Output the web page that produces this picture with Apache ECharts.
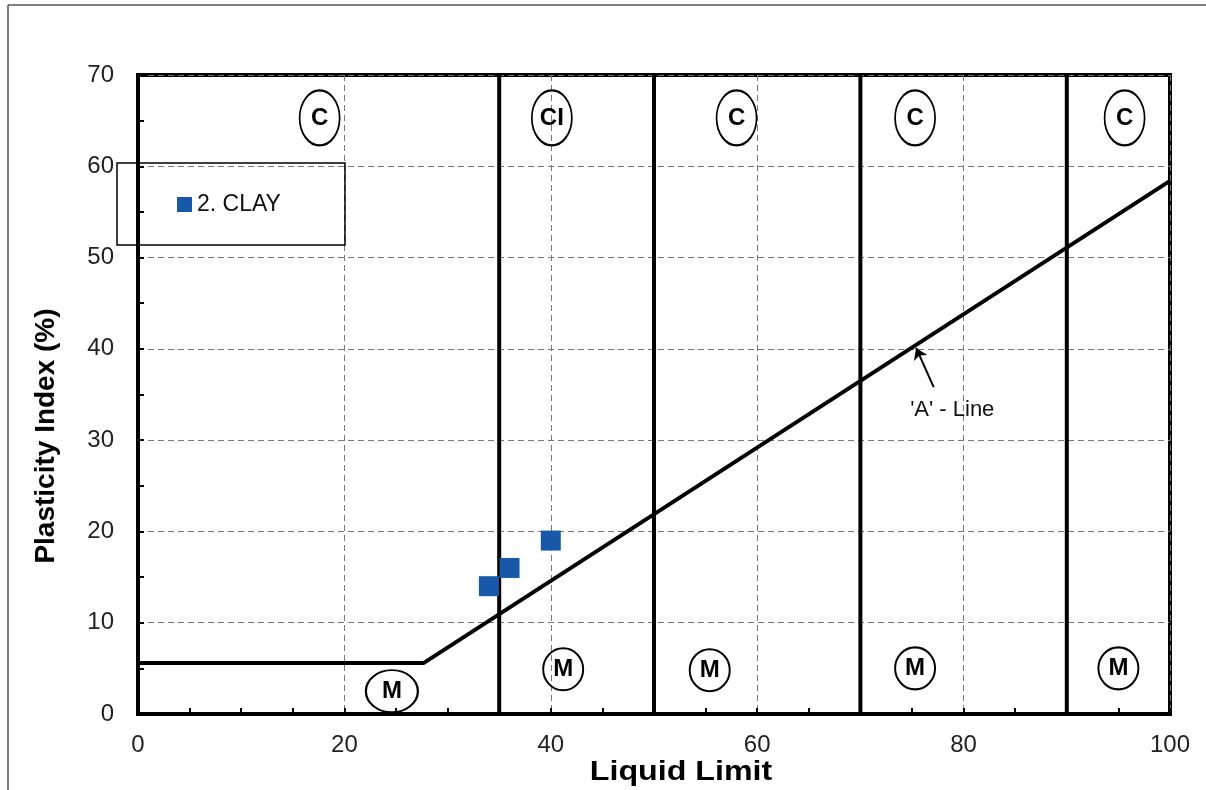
<!DOCTYPE html>
<html>
<head>
<meta charset="utf-8">
<script src="https://cdn.jsdelivr.net/npm/echarts@6/dist/echarts.min.js"></script>
<style>
html,body{margin:0;padding:0;background:#fff;}
#chart{width:1206px;height:790px;}
</style>
</head>
<body>
<div id="chart"></div>
<script>
// ---- data ----
const xTicks = [0, 20, 40, 60, 80, 100];
const yTicks = [0, 10, 20, 30, 40, 50, 60, 70];
const aLineLL = [0, 27.7, 100];
const aLinePI = [5.6, 5.6, 58.4];
const dividerLL = [35, 50, 70, 90];
const sampleName = '2. CLAY';
const sampleLL = [34, 36, 40];
const samplePI = [14, 16, 19];
const zoneText = ['C', 'CI', 'C', 'C', 'C', 'M', 'M', 'M', 'M', 'M'];
const zoneLL = [17.6, 40.1, 58.0, 75.3, 95.6, 24.6, 41.2, 55.4, 75.3, 95.0];
const zonePI = [65.3, 65.3, 65.3, 65.3, 65.3, 2.5, 4.9, 4.8, 5.0, 5.0];
const zoneW = [40, 40, 40, 40, 40, 52, 40, 40, 40, 40];
const zoneH = [55, 55, 55, 55, 55, 42, 42, 42, 42, 42];
const arrowFrom = [77.1, 35.8];
const arrowTo = [75.4, 40.1];
const aLabelPos = [78.9, 33.3];
const aLabelText = "'A' - Line";

const chart = echarts.init(document.getElementById('chart'), null, {renderer: 'canvas'});
const FONT = 'Liberation Sans, Arial, sans-serif';

const series = [];
dividerLL.forEach(function (ll) {
  series.push({
    type: 'line', data: [[ll, 0], [ll, 70]], symbol: 'none', silent: true,
    lineStyle: {color: '#000', width: 4}, z: 3
  });
});
series.push({
  type: 'line', data: aLineLL.map(function (v, i) { return [v, aLinePI[i]]; }),
  symbol: 'none', lineStyle: {color: '#000', width: 4}, z: 3
});
series.push({
  type: 'scatter', symbol: 'circle',
  data: zoneText.map(function (t, i) {
    return {name: t, value: [zoneLL[i], zonePI[i]], symbolSize: [zoneW[i], zoneH[i]]};
  }),
  itemStyle: {color: 'rgba(0,0,0,0)', borderColor: '#000', borderWidth: 2, opacity: 1},
  label: {show: true, position: 'inside', formatter: '{b}', color: '#000',
    fontWeight: 'bold', fontSize: 24, fontFamily: FONT},
  z: 4
});
series.push({
  name: sampleName, type: 'scatter', symbol: 'rect', symbolSize: 20,
  data: sampleLL.map(function (v, i) { return [v, samplePI[i]]; }),
  itemStyle: {color: '#1759a8', opacity: 1}, z: 5
});
series.push({
  type: 'lines', coordinateSystem: 'cartesian2d', polyline: false,
  symbol: ['none', 'arrow'], symbolSize: 11,
  data: [{coords: [arrowFrom, arrowTo]}],
  lineStyle: {color: '#000', width: 2, curveness: 0, opacity: 1}, z: 5
});
series.push({
  type: 'scatter', symbolSize: 0,
  data: [{name: aLabelText, value: aLabelPos}],
  itemStyle: {opacity: 1},
  label: {show: true, position: 'inside', formatter: '{b}', color: '#111',
    fontSize: 22, fontFamily: FONT},
  z: 5
});

const option = {
  animation: false,
  backgroundColor: '#fff',
  grid: {left: 138, right: 36, top: 75, bottom: 76, show: true,
    borderColor: '#000', borderWidth: 4, backgroundColor: 'transparent'},
  xAxis: {
    type: 'value', min: 0, max: 100, interval: 20,
    axisLine: {show: true, lineStyle: {color: '#000', width: 4}},
    axisTick: {show: true, inside: true, length: 6, lineStyle: {color: '#000', width: 2}},
    minorTick: {show: true, splitNumber: 4, length: 6, lineStyle: {color: '#000', width: 2}},
    splitLine: {show: true, lineStyle: {color: '#777', type: [6, 4], width: 1}},
    axisLabel: {color: '#222', fontSize: 24, fontFamily: FONT, margin: 19,
      formatter: function (v) { return xTicks.indexOf(v) >= 0 ? String(v) : ''; }}
  },
  yAxis: {
    type: 'value', min: 0, max: 70, interval: 10,
    axisLine: {show: true, lineStyle: {color: '#000', width: 4}},
    axisTick: {show: true, inside: true, length: 6, lineStyle: {color: '#000', width: 2}},
    minorTick: {show: true, splitNumber: 2, length: 6, lineStyle: {color: '#000', width: 2}},
    splitLine: {show: true, lineStyle: {color: '#777', type: [6, 4], width: 1}},
    axisLabel: {color: '#222', fontSize: 24, fontFamily: FONT, margin: 24,
      formatter: function (v) { return yTicks.indexOf(v) >= 0 ? String(v) : ''; }}
  },
  legend: {
    data: [sampleName], left: 177, top: 193, padding: 0, itemGap: 5,
    itemWidth: 15, itemHeight: 15, icon: 'rect',
    textStyle: {fontSize: 23, color: '#111', fontFamily: FONT, padding: [2, 0, 0, 0]}
  },
  graphic: [
    {type: 'rect', shape: {x: 117, y: 163, width: 228, height: 82},
      style: {fill: 'none', stroke: '#000', lineWidth: 1.5}, z: 10},
    {type: 'line', shape: {x1: 8, y1: 5, x2: 1206, y2: 5},
      style: {stroke: '#555', lineWidth: 1.5}},
    {type: 'line', shape: {x1: 8, y1: 5, x2: 8, y2: 790},
      style: {stroke: '#555', lineWidth: 1.5}},
    {type: 'text', x: 46, y: 436, rotation: Math.PI / 2,
      style: {text: 'Plasticity Index (%)', font: 'bold 28px ' + FONT, fill: '#000',
        textAlign: 'center', textVerticalAlign: 'middle'}},
    {type: 'text', x: 681, y: 772, scaleX: 1.15,
      style: {text: 'Liquid Limit', font: 'bold 28px ' + FONT, fill: '#000',
        textAlign: 'center', textVerticalAlign: 'middle'}}
  ],
  series: series
};
chart.setOption(option);
</script>
</body>
</html>
